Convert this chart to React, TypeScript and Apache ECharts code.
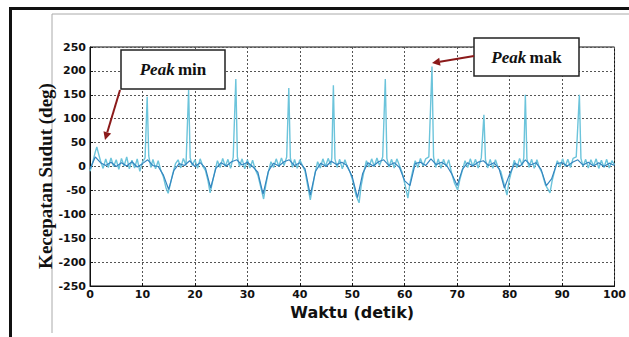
import React, { useEffect, useRef } from "react";
import * as echarts from "echarts";

// Raw angular velocity signal: [time (s), value (deg)]
const kecepatanMentah: [number, number][] = [
  [0, -10], [0.5, 8], [1.0, 30], [1.3, 41], [1.6, 28], [2.0, 12], [2.5, -4], [3.0, 16], [3.5, -2], [4.0, 18],
  [4.5, 0], [5.0, 14], [5.5, -6], [6.0, 17], [6.5, 1], [7.0, 20], [7.5, -5], [8.0, 13], [8.5, -3], [9.0, 16],
  [9.5, -10], [10.0, 9], [10.5, 18], [10.9, 146], [11.2, 22], [11.6, -2], [12.0, 15], [12.5, -5], [13.0, 12], [13.5, -8],
  [14.0, -22], [14.5, -45], [14.9, -56], [15.3, -38], [15.8, -14], [16.3, 6], [16.8, 14], [17.3, -3], [17.8, 17], [18.3, 2],
  [18.8, 160], [19.1, 18], [19.5, 2], [20.0, 14], [20.5, -4], [21.0, 16], [21.5, 1], [22.0, -8], [22.5, -30], [22.9, -55],
  [23.3, -35], [23.8, -10], [24.3, 12], [24.8, -2], [25.3, 17], [25.8, 0], [26.3, 15], [26.8, -4], [27.3, 19], [27.8, 183],
  [28.1, 20], [28.5, 0], [29.0, 16], [29.5, -5], [30.0, 14], [30.5, -3], [31.0, 13], [31.5, -6], [32.0, -18], [32.6, -45],
  [33.1, -68], [33.5, -40], [34.0, -12], [34.5, 10], [35.0, -2], [35.5, 16], [36.0, 0], [36.5, 18], [37.0, 2], [37.5, 20],
  [37.9, 164], [38.2, 18], [38.6, -2], [39.0, 15], [39.5, -4], [40.0, 14], [40.5, 2], [41.0, -10], [41.5, -40], [42.0, -70],
  [42.4, -45], [42.9, -14], [43.4, 10], [43.9, -3], [44.4, 16], [44.9, 0], [45.4, 17], [45.9, 3], [46.1, 18], [46.4, 170],
  [46.7, 16], [47.1, -2], [47.6, 15], [48.1, -5], [48.6, 14], [49.1, -2], [49.6, -12], [50.1, -30], [50.7, -60], [51.3, -76],
  [51.7, -40], [52.2, -12], [52.7, 12], [53.2, -1], [53.7, 16], [54.2, 0], [54.7, 18], [55.2, 2], [55.8, 20], [56.3, 183],
  [56.6, 17], [57.0, -1], [57.5, 15], [58.0, -3], [58.5, 16], [59.0, 2], [59.5, -12], [60.1, -40], [60.6, -66], [61.0, -35],
  [61.5, -10], [62.0, 12], [62.5, -2], [63.0, 17], [63.5, 1], [64.0, 16], [64.6, 20], [65.2, 209], [65.5, 20], [65.9, -2],
  [66.4, 16], [66.9, -4], [67.4, 15], [67.9, 0], [68.4, 14], [68.9, -12], [69.5, -35], [70.1, -49], [70.5, -28], [71.0, -8],
  [71.5, 12], [72.0, -2], [72.5, 16], [73.0, 0], [73.5, 15], [74.0, -3], [74.6, 18], [75.1, 108], [75.4, 14], [75.8, -3],
  [76.3, 15], [76.8, -4], [77.3, 14], [77.8, -2], [78.3, -10], [78.9, -35], [79.5, -60], [79.9, -30], [80.4, -8], [80.9, 13],
  [81.4, -3], [81.9, 17], [82.4, 2], [82.7, 18], [83.0, 150], [83.3, 16], [83.7, -2], [84.2, 15], [84.7, -4], [85.2, 14],
  [85.7, -3], [86.2, -14], [86.8, -38], [87.7, -55], [88.1, -30], [88.6, -8], [89.1, 12], [89.6, -1], [90.1, 16], [90.6, 0],
  [91.1, 15], [91.6, -2], [92.1, 17], [92.7, 20], [93.3, 150], [93.6, 17], [94.0, 0], [94.5, 15], [95.0, -3], [95.5, 14],
  [96.0, 1], [96.5, 16], [97.0, -4], [97.5, 13], [98.0, -2], [98.5, 15], [99.0, -3], [99.5, 12], [100, 4],
];

// Filtered signal, one value per second from t = 0 to 100
const kecepatanFilter: number[] = [
  -5, 20, 8, 2, 9, 0, 8, 1, 10, -1,
  6, 14, 2, 0, -18, -48, -8, 6, 2, 12,
  0, 8, -3, -45, -4, 8, 1, 10, 14, 3,
  9, 0, -12, -58, -10, 7, 1, 10, 14, 2,
  8, -5, -60, -10, 7, 0, 11, 4, 9, 2,
  -22, -65, -14, 8, 1, 10, 14, 2, 8, -2,
  -30, -40, 6, 9, 2, 16, 4, 9, 2, -16,
  -40, -6, 8, 1, 9, 12, 2, 8, -5, -45,
  -16, 7, 1, 14, 3, 8, -6, -40, -26, 6,
  8, 1, 9, 14, 3, 9, 1, 8, 0, 7,
  2,
];

const xTicks = { min: 0, max: 100, interval: 10 };
const yTicks = { min: -250, max: 250, interval: 50 };

const xName = "Waktu (detik)";
const yName = "Kecepatan Sudut (deg)";
const annotMin = ["Peak", "min"];
const annotMax = ["Peak", "mak"];

export default function App() {
  const ref = useRef<HTMLDivElement>(null);
  useEffect(() => {
    if (!ref.current) return;
    const chart = echarts.init(ref.current, null, { renderer: "svg" });
    const tickFont = {
      fontFamily: "DejaVu Sans",
      fontWeight: "bold" as const,
      fontSize: 11,
      color: "#111",
    };
    const gridLine = { show: true, lineStyle: { color: "#555", type: [2, 2] as any, width: 1 } };
    const arrowColor = "#8b1a1a";
    const boxText = (x: number, y: number, w: number, h: number, parts: string[]) => [
      {
        type: "rect",
        shape: { x, y, width: w, height: h },
        style: { fill: "#fff", stroke: "#222", lineWidth: 1.5 },
        z: 100,
      },
      {
        type: "text",
        x: x + w / 2,
        y: y + h / 2,
        z: 101,
        style: {
          text: `{a|${parts[0]}} {b|${parts[1]}}`,
          align: "center",
          verticalAlign: "middle",
          rich: {
            a: { fontFamily: "Liberation Serif", fontStyle: "italic", fontWeight: "bold", fontSize: 17, fill: "#111" },
            b: { fontFamily: "Liberation Serif", fontWeight: "bold", fontSize: 17, fill: "#111" },
          },
        },
      },
    ];
    const arrow = (x1: number, y1: number, x2: number, y2: number) => {
      const ang = Math.atan2(y2 - y1, x2 - x1);
      const L = 8, W = 4;
      const bx = x2 - L * Math.cos(ang), by = y2 - L * Math.sin(ang);
      const px = -Math.sin(ang) * W, py = Math.cos(ang) * W;
      return [
        { type: "line", z: 100, shape: { x1, y1, x2: bx, y2: by }, style: { stroke: arrowColor, lineWidth: 2 } },
        {
          type: "polygon",
          z: 100,
          shape: { points: [[x2, y2], [bx + px, by + py], [bx - px, by - py]] },
          style: { fill: arrowColor },
        },
      ];
    };
    chart.setOption({
      animation: false,
      backgroundColor: "#fff",
      grid: { left: 90, right: 11, top: 47, bottom: 51, show: true, borderColor: "#111", borderWidth: 1 },
      xAxis: {
        type: "value",
        min: xTicks.min,
        max: xTicks.max,
        interval: xTicks.interval,
        name: xName,
        nameLocation: "middle",
        nameGap: 15,
        nameTextStyle: { fontFamily: "DejaVu Sans", fontWeight: "bold", fontSize: 16, color: "#111" },
        axisLine: { show: true, onZero: false, lineStyle: { color: "#111" } },
        axisTick: { show: true, inside: true, length: 3, lineStyle: { color: "#111" } },
        axisLabel: { ...tickFont, margin: 3 },
        splitLine: gridLine,
      },
      yAxis: {
        type: "value",
        min: yTicks.min,
        max: yTicks.max,
        interval: yTicks.interval,
        axisLine: { show: true, onZero: false, lineStyle: { color: "#111" } },
        axisTick: { show: true, inside: true, length: 3, lineStyle: { color: "#111" } },
        axisLabel: { ...tickFont, margin: 4 },
        splitLine: gridLine,
      },
      series: [
        {
          type: "line",
          data: kecepatanMentah,
          showSymbol: false,
          lineStyle: { color: "#6cc4db", width: 1.4 },
          z: 2,
        },
        {
          type: "line",
          data: kecepatanFilter.map((v, i) => [i, v]),
          showSymbol: false,
          lineStyle: { color: "#3485bf", width: 1.2 },
          z: 3,
        },
      ],
      graphic: [
        { type: "rect", shape: { x: 9, y: 7, width: 630, height: 3 }, style: { fill: "#111" }, z: 50 },
        { type: "rect", shape: { x: 9, y: 7, width: 3, height: 340 }, style: { fill: "#111" }, z: 50 },
        { type: "line", shape: { x1: 52, y1: 14, x2: 629, y2: 14 }, style: { stroke: "#aaa", lineWidth: 1 }, z: 50 },
        { type: "line", shape: { x1: 52, y1: 14, x2: 52, y2: 333 }, style: { stroke: "#aaa", lineWidth: 1 }, z: 50 },
        {
          type: "text",
          x: 45,
          y: 176,
          rotation: Math.PI / 2,
          z: 60,
          style: {
            text: yName,
            align: "center",
            verticalAlign: "middle",
            fontFamily: "Liberation Serif",
            fontWeight: "bold",
            fontSize: 19,
            fill: "#111",
          },
        },
        ...boxText(121, 50, 104, 39, annotMin),
        ...arrow(120, 90, 105, 140),
        ...boxText(474, 38, 105, 38, annotMax),
        ...arrow(474, 56, 432, 63),
      ],
    });
    return () => chart.dispose();
  }, []);
  return <div ref={ref} style={{ position: "fixed", left: 0, top: 0, width: 629, height: 337 }} />;
}
